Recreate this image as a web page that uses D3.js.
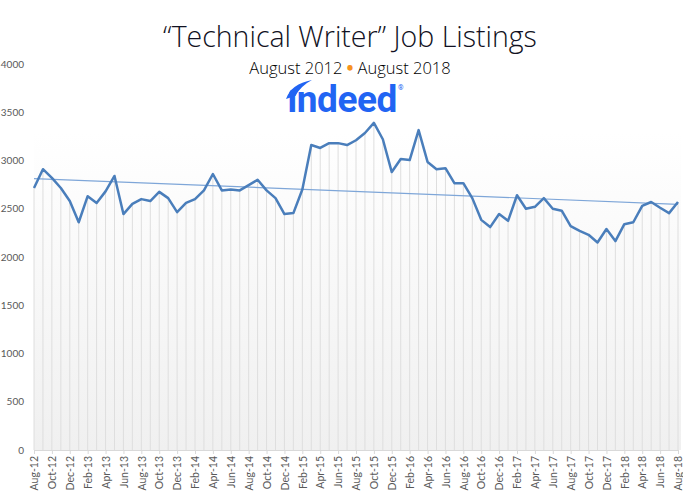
<!DOCTYPE html>
<html><head><meta charset="utf-8">
<script src="https://cdn.jsdelivr.net/npm/d3@7"></script>
<style>body{margin:0;background:#fff}svg{display:block}</style>
</head><body>
<svg id="c" width="683" height="497"></svg>
<script>
const monthNames = ["Jan","Feb","Mar","Apr","May","Jun","Jul","Aug","Sep","Oct","Nov","Dec"];
const months = [];
for (let k = 0; k < 73; k++) { const m = (7 + k) % 12, y = 12 + Math.floor((7 + k) / 12); months.push(monthNames[m] + "-" + y); }
const listings = [2715,2910,2820,2715,2580,2360,2630,2560,2680,2840,
  2445,2550,2600,2580,2675,2610,2465,2560,2600,2690,
  2860,2690,2700,2690,2745,2800,2690,2610,2445,2455,
  2700,3160,3130,3180,3180,3160,3210,3285,3390,3220,
  2880,3015,3005,3315,2985,2910,2920,2765,2765,2610,
  2385,2310,2445,2375,2640,2500,2520,2610,2500,2480,
  2320,2270,2230,2150,2290,2165,2340,2360,2530,2570,
  2510,2455,2570];
const yTicks = [0,500,1000,1500,2000,2500,3000,3500,4000];

const svg = d3.select("#c");
const L = 34, R = 678, T = 64, B = 450;
const x = d3.scalePoint().domain(months).range([L, R]);
const y = d3.scaleLinear().domain([0, 4000]).range([B, T]);

const defs = svg.append("defs");
const g = defs.append("linearGradient").attr("id","bg").attr("x1",0).attr("y1",0).attr("x2",0).attr("y2",1);
g.append("stop").attr("offset","0%").attr("stop-color","#ffffff");
g.append("stop").attr("offset","100%").attr("stop-color","#f0f0f0");
svg.append("rect").attr("x", L).attr("y", y(3500)+20).attr("width", R - L + 3).attr("height", B - y(3500) - 20).attr("fill","url(#bg)");

// drop lines
svg.append("g").selectAll("line").data(listings).join("line")
  .attr("x1",(d,i)=>x(months[i])).attr("x2",(d,i)=>x(months[i]))
  .attr("y1",d=>y(d)).attr("y2",B)
  .attr("stroke","#dedede").attr("stroke-width",1);

// axes
const yAxis = d3.axisLeft(y).tickValues(yTicks).tickFormat(d3.format("d")).tickSize(0).tickPadding(10);
const ya = svg.append("g").attr("transform",`translate(${L},0)`).call(yAxis);
ya.select(".domain").remove();
ya.selectAll("text").attr("fill","#595959").style("font-family","Lato, 'Open Sans', sans-serif").style("font-size","10px").attr("x",-10);

const xAxis = d3.axisBottom(x).tickValues(months.filter((d,i)=>i%2===0)).tickSize(4).tickPadding(4);
const xa = svg.append("g").attr("transform",`translate(0,${B})`).call(xAxis);
xa.select(".domain").attr("stroke","#d9d9d9");
xa.selectAll(".tick line").attr("stroke","#d9d9d9");
xa.selectAll("text").attr("fill","#595959").style("font-family","Lato, 'Open Sans', sans-serif").style("font-size","10.5px")
  .attr("transform","rotate(-90)").attr("text-anchor","end").attr("x",-6).attr("y",0).attr("dy","0.35em");

// trend line (least squares)
const n = listings.length;
const mx = d3.mean(d3.range(n)), my = d3.mean(listings);
let sxy = 0, sxx = 0;
listings.forEach((v,i)=>{ sxy += (i-mx)*(v-my); sxx += (i-mx)*(i-mx); });
const slope = sxy/sxx, icpt = my - slope*mx;
svg.append("line").attr("x1",x(months[0])).attr("x2",x(months[n-1]))
  .attr("y1",y(icpt)).attr("y2",y(icpt+slope*(n-1)))
  .attr("stroke","#7ea6d8").attr("stroke-width",1.2);

// main line
svg.append("path").datum(listings)
  .attr("d", d3.line().x((d,i)=>x(months[i])).y(d=>y(d)))
  .attr("fill","none").attr("stroke","#4a7ebb").attr("stroke-width",2.5).attr("stroke-linejoin","round");

// titles
svg.append("text").attr("x",350).attr("y",47).attr("text-anchor","middle")
  .style("font-family","'Open Sans', sans-serif").style("font-weight",300).style("font-size","28.5px").attr("fill","#111122")
  .text("“Technical Writer” Job Listings");
const sub = svg.append("text").attr("x",350).attr("y",74).attr("text-anchor","middle")
  .style("font-family","'Open Sans', sans-serif").style("font-weight",300).style("font-size","16.5px").attr("fill","#000000");
sub.append("tspan").text("August 2012 ");
sub.append("tspan").attr("fill","#f7931e").style("font-weight",800).text("•");
sub.append("tspan").text(" August 2018");

// indeed logo
svg.append("text").attr("x",342).attr("y",112).attr("text-anchor","middle")
  .style("font-family","Roboto, Inter, sans-serif").style("font-weight",700).style("font-size","37px").attr("fill","#2164f3")
  .style("letter-spacing","-0.5px").text("ındeed");
svg.append("path").attr("d","M286,99 Q291,84 312,80 Q302,85 295,96 Z").attr("fill","#2164f3");
svg.append("circle").attr("cx",293).attr("cy",93).attr("r",3.5).attr("fill","#2164f3");
svg.append("text").attr("x",398).attr("y",90).style("font-family","Roboto, sans-serif").style("font-size","7px").attr("fill","#2164f3").text("®");
</script>
</body></html>
